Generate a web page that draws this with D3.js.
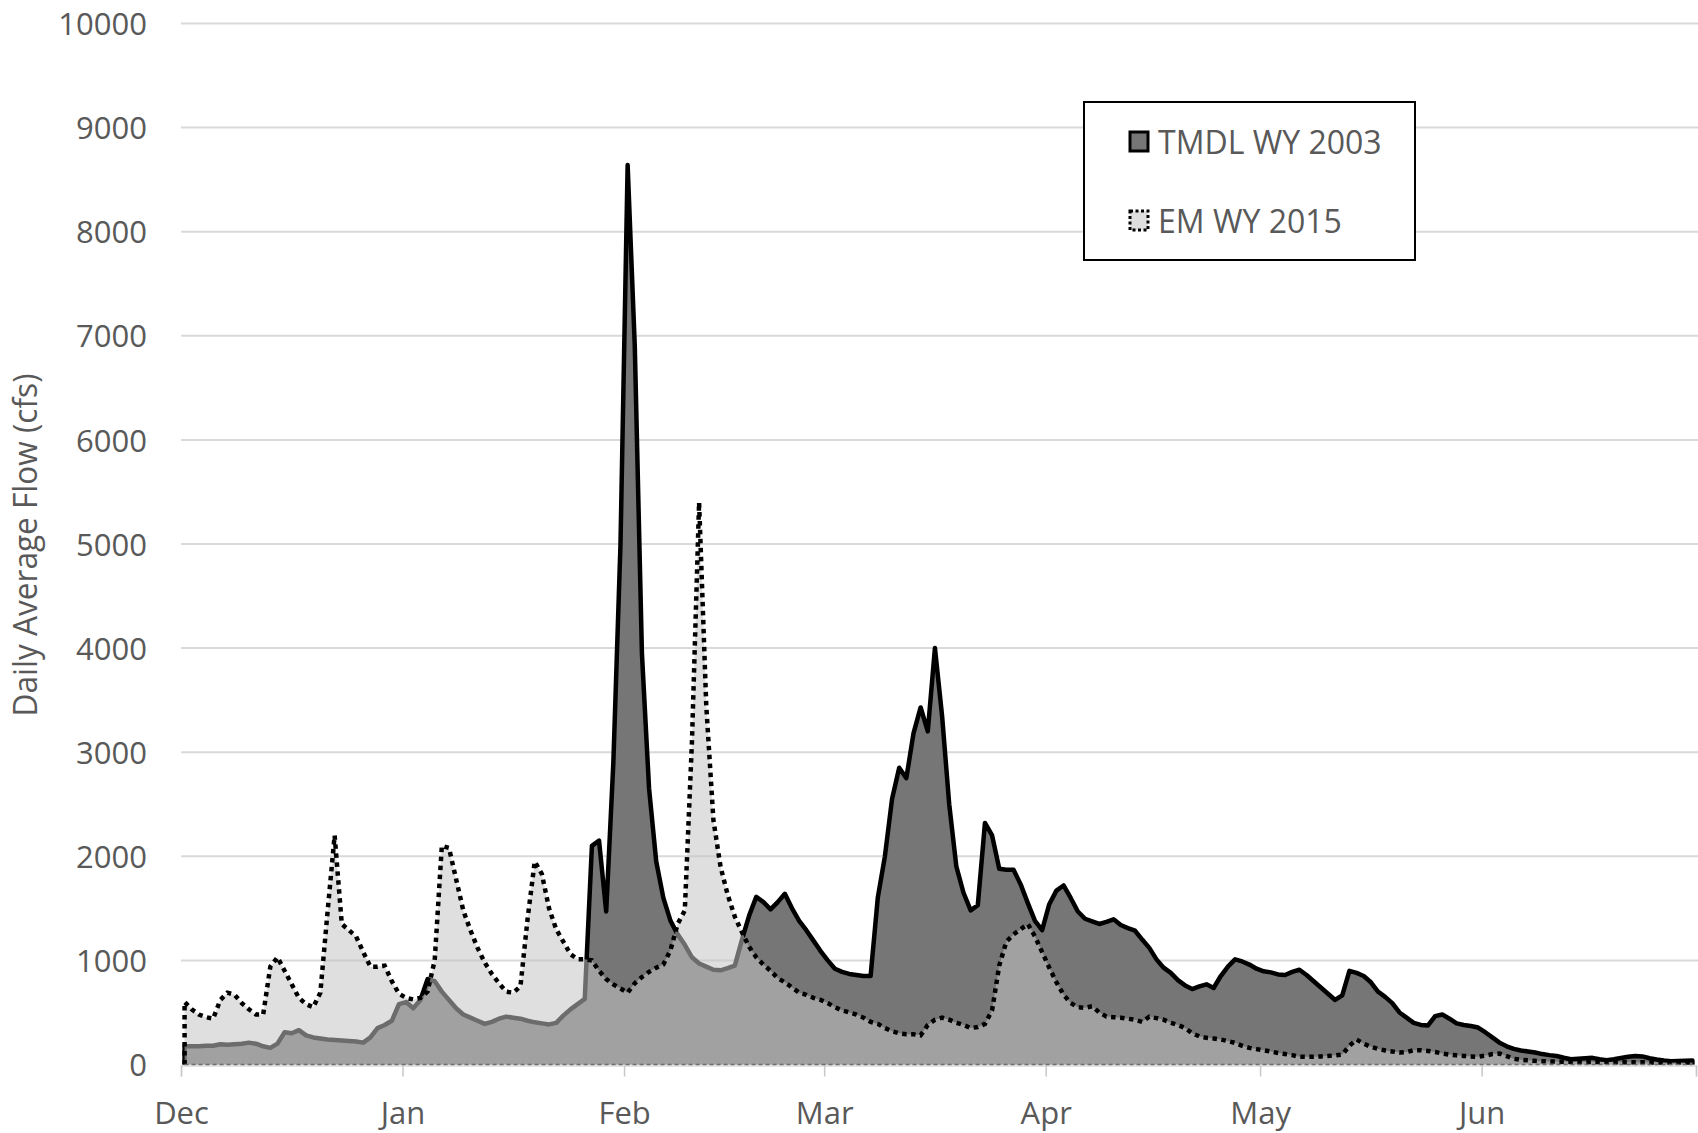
<!DOCTYPE html>
<html>
<head>
<meta charset="utf-8">
<script src="https://cdn.jsdelivr.net/npm/d3@7"></script>
<style>
  html, body { margin: 0; padding: 0; background: #fff; }
  svg { display: block; }
</style>
</head>
<body>
<svg id="chart" width="1698" height="1133"></svg>
<script>
// Daily average flow, 1 Dec through 30 Jun (one value per day)
const seasonStart = [2002, 11, 1];
const seasonEnd = [2003, 6, 1];

const tmdlFlow = [
  175, 175, 175, 180, 180, 195, 190, 195, 200, 210,
  200, 175, 160, 200, 310, 300, 330, 280, 260, 250,
  240, 235, 230, 225, 220, 210, 260, 350, 380, 420,
  580, 600, 540, 620, 820, 800, 700, 620, 540, 480,
  450, 420, 390, 410, 440, 460, 450, 440, 420, 405,
  395, 385, 400, 470, 530, 580, 630, 2100, 2150, 1470,
  2900, 5000, 8640, 6900, 3950, 2650, 1950, 1600, 1380, 1250,
  1150, 1030, 970, 940, 910, 905, 925, 950, 1200, 1430,
  1610, 1560, 1490, 1560, 1640, 1500, 1380, 1290, 1190, 1090,
  1000, 920, 890, 870, 860, 850, 850, 1600, 2000, 2550,
  2850, 2750, 3180, 3430, 3200, 4000, 3350, 2500, 1900, 1650,
  1480, 1530, 2320, 2200, 1880, 1870, 1870, 1730, 1550, 1380,
  1290, 1540, 1670, 1720, 1600, 1470, 1400, 1375, 1350, 1370,
  1395, 1340, 1310, 1285, 1200, 1120, 1010, 930, 880, 810,
  760, 725, 750, 770, 735, 850, 940, 1010, 990, 960,
  920, 895, 885, 865, 860, 890, 910, 860, 800, 740,
  680, 620, 665, 900, 880, 850, 790, 700, 650, 590,
  500, 450, 400, 380, 375, 465, 480, 440, 395, 380,
  370, 355, 310, 260, 210, 175, 150, 135, 125, 115,
  100, 90, 82, 65, 50, 55, 60, 64, 50, 42,
  50, 62, 75, 82, 78, 60, 48, 38, 32, 33,
  35, 38
];

const emFlow = [
  600, 530, 480, 455, 440, 620, 690, 670, 590, 530,
  480, 480, 940, 1030, 900, 770, 640, 580, 550, 690,
  1460, 2200, 1350, 1290, 1230, 1080, 940, 940, 950, 800,
  680, 640, 625, 640, 700, 1000, 2100, 2080, 1780, 1480,
  1290, 1120, 980, 870, 780, 700, 690, 750, 1400, 1950,
  1830, 1500, 1300, 1180, 1060, 1010, 1010, 1000, 900, 820,
  770, 730, 690, 780, 840, 890, 930, 960, 1100, 1350,
  1480, 3100, 5400, 3450, 2350, 1900, 1630, 1420, 1270, 1130,
  1030, 960, 900, 830, 790, 740, 690, 670, 640, 620,
  590, 550, 520, 500, 480, 450, 410, 390, 350, 320,
  300, 290, 290, 280, 380, 430, 450, 430, 400, 380,
  350, 360, 390, 520, 950, 1180, 1250, 1300, 1350, 1230,
  1080, 930, 790, 670, 590, 550, 545, 560, 500, 460,
  455, 450, 440, 430, 410, 460, 445, 430, 400, 380,
  350, 300, 270, 256, 250, 240, 225, 208, 180, 160,
  148, 137, 125, 110, 100, 90, 75, 74, 74, 78,
  82, 88, 96, 180, 240, 200, 170, 150, 135, 125,
  115, 120, 137, 137, 130, 120, 106, 95, 88, 82,
  78, 74, 85, 100, 105, 80, 55, 45, 40, 35,
  32, 30, 28, 26, 25, 25, 24, 24, 23, 23,
  22, 22, 22, 21, 21, 20, 20, 20, 20, 20,
  20, 20
];

const yTickValues = [0, 1000, 2000, 3000, 4000, 5000, 6000, 7000, 8000, 9000, 10000];
const seriesNames = ["TMDL WY 2003", "EM WY 2015"];
const yAxisTitle = "Daily Average Flow (cfs)";

// ---- layout & styles ----
const FONT = "'Open Sans', 'DejaVu Sans', sans-serif";
const TEXT = "#595959";
const GRID = "#d9d9d9";
const TMDL_FILL = "#767676";
const EM_FILL = "rgb(196,196,196)";
const EM_ALPHA = 0.55;

const svg = d3.select("#chart");

const t0 = new Date(Date.UTC(...seasonStart));
const t1 = new Date(Date.UTC(...seasonEnd));
const x = d3.scaleUtc().domain([t0, t1]).range([181, 1696]);
const y = d3.scaleLinear().domain([0, 10000]).range([1064.5, 23.5]);

// each daily average sits at the middle of its day
const dayOf = i => new Date(Date.UTC(seasonStart[0], seasonStart[1], seasonStart[2] + i, 12));
const toPoints = arr => arr.map((v, i) => ({ date: dayOf(i), value: v }));
const tmdlPts = toPoints(tmdlFlow);
const emPts = toPoints(emFlow);

// ---- gridlines ----
svg.append("g")
  .selectAll("line")
  .data(yTickValues.filter(v => v > 0))
  .join("line")
  .attr("x1", x.range()[0]).attr("x2", 1698)
  .attr("y1", d => y(d)).attr("y2", d => y(d))
  .attr("stroke", GRID).attr("stroke-width", 2);

// ---- y axis labels ----
const yAxis = d3.axisLeft(y).tickValues(yTickValues).tickSize(0).tickPadding(0).tickFormat(d3.format("d"));
const yG = svg.append("g").attr("transform", "translate(147,0)").call(yAxis);
yG.select(".domain").remove();
yG.selectAll("text")
  .attr("font-family", FONT).attr("font-size", 31).attr("fill", TEXT)
  .attr("dy", "0.36em");

// ---- x axis ----
const months = d3.utcMonth.range(t0, d3.utcDay.offset(t1, 1));
const xAxis = d3.axisBottom(x).tickValues(months).tickSize(11).tickPadding(25).tickFormat(d3.utcFormat("%b"));
const xG = svg.append("g").attr("transform", `translate(0,${y(0) + 1})`).call(xAxis);
xG.select(".domain").attr("stroke", GRID).attr("stroke-width", 1.5);
xG.selectAll(".tick line").attr("stroke", "#c8c8c8").attr("stroke-width", 1.5);
xG.selectAll(".tick text")
  .attr("font-family", FONT).attr("font-size", 31).attr("fill", TEXT)
  .attr("dy", "0.71em");
xG.selectAll(".tick").filter(d => +d === +t1).select("text").remove();

// ---- areas ----
const area = d3.area().x(d => x(d.date)).y0(y(0)).y1(d => y(d.value));
const outline = pts => {
  const closed = [{ date: pts[0].date, value: 0 }, ...pts, { date: pts[pts.length - 1].date, value: 0 }];
  return d3.line().x(d => x(d.date)).y(d => y(d.value))(closed);
};

svg.append("path").datum(tmdlPts)
  .attr("d", area).attr("fill", TMDL_FILL);
svg.append("path")
  .attr("d", outline(tmdlPts))
  .attr("fill", "none").attr("stroke", "#000").attr("stroke-width", 4.5)
  .attr("stroke-linejoin", "round");

svg.append("path").datum(emPts)
  .attr("d", area).attr("fill", EM_FILL).attr("fill-opacity", EM_ALPHA);
svg.append("path")
  .attr("d", outline(emPts))
  .attr("fill", "none").attr("stroke", "#000").attr("stroke-width", 4.5)
  .attr("stroke-dasharray", "4.5,4.5").attr("stroke-linejoin", "miter");

// zero line along the bottom of both areas
svg.append("line")
  .attr("x1", x(dayOf(0))).attr("x2", x(dayOf(tmdlFlow.length - 1)))
  .attr("y1", y(0)).attr("y2", y(0))
  .attr("stroke", "#6e6e6e").attr("stroke-width", 1.5).attr("stroke-dasharray", "4,3");

// ---- y axis title ----
svg.append("text")
  .attr("transform", "translate(37,545) rotate(-90)")
  .attr("text-anchor", "middle")
  .attr("font-family", FONT).attr("font-size", 32).attr("fill", TEXT)
  .attr("textLength", 343).attr("lengthAdjust", "spacingAndGlyphs")
  .text(yAxisTitle);

// ---- legend ----
const lg = svg.append("g");
lg.append("rect").attr("x", 1084).attr("y", 102).attr("width", 331).attr("height", 158)
  .attr("fill", "#fff").attr("stroke", "#000").attr("stroke-width", 2);
const legendRows = [
  { name: seriesNames[0], cy: 142, fill: TMDL_FILL, dash: null },
  { name: seriesNames[1], cy: 221, fill: "#dedede", dash: "3,2.5" }
];
legendRows.forEach(r => {
  lg.append("rect").attr("x", 1130).attr("y", r.cy - 10).attr("width", 18).attr("height", 19)
    .attr("fill", r.fill).attr("stroke", "#000").attr("stroke-width", 3)
    .attr("stroke-dasharray", r.dash);
  lg.append("text").attr("x", 1158).attr("y", r.cy).attr("dy", "0.36em")
    .attr("font-family", FONT).attr("font-size", 32).attr("fill", TEXT)
    .text(r.name);
});
</script>
</body>
</html>
